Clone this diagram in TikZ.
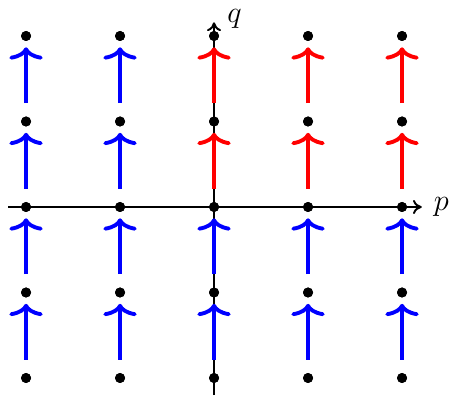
\documentclass[tikz,border=0pt]{standalone}
\usepackage{amsmath}
\usetikzlibrary{arrows.meta}

\begin{document}
\begin{tikzpicture}[
  x=1.88cm, y=1.71cm,
  font=\LARGE,
  dot/.style={circle, fill=black, inner sep=0pt, minimum size=0.2cm},
  axis/.style={-{Computer Modern Rightarrow[length=5pt, width=8pt]},
               line width=1.1pt},
  flow/.style={-{Computer Modern Rightarrow[length=7pt, width=19pt]},
               line width=2.2pt, shorten <=0.26cm, shorten >=0.12cm}
]
\useasboundingbox (-2.277,-2.222) rectangle (2.574,2.421);

% Axes
\coordinate (pstart) at (-2.19,0);
\coordinate (pend) at (2.21,0);
\coordinate (qstart) at (0,-2.2);
\coordinate (qend) at (0,2.16);
\draw[axis] (pstart) -- (pend) node[right=3pt] (plab) {$p$};
\draw[axis] (qstart) -- (qend)
  node[anchor=south west, inner sep=1pt, xshift=6pt, yshift=-5pt] (qlab) {$q$};

% Lattice points
\foreach \i in {0,...,4}{
  \foreach \j in {0,...,4}{
    \node[dot] (d\i\j) at (\i-2, \j-2) {};
  }
}

% Flow arrows
\foreach \i in {0,...,4}{
  \foreach \j/\k in {0/1,1/2,2/3,3/4}{
    \ifnum\j>1 \ifnum\i>1 \def\col{red}\else\def\col{blue}\fi
    \else \def\col{blue}\fi
    \draw[flow, \col] (d\i\j) -- (d\i\k);
  }
}

% Points on top
\foreach \i in {0,...,4}{
  \foreach \j in {0,...,4}{
    \fill (d\i\j) circle (0.1cm);
  }
}

\end{tikzpicture}
\end{document}
